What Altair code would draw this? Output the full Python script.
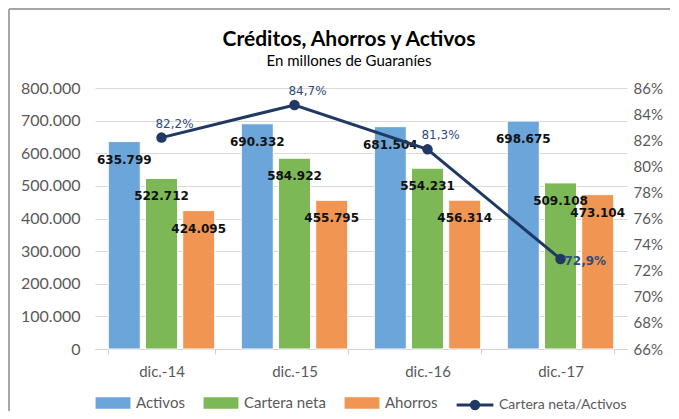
import altair as alt
import pandas as pd

categorias = ["dic.-14", "dic.-15", "dic.-16", "dic.-17"]
series = ["Activos", "Cartera neta", "Ahorros"]
activos = [635799, 690332, 681504, 698675]
cartera = [522712, 584922, 554231, 509108]
ahorros = [424095, 455795, 456314, 473104]
ratio = [0.822, 0.847, 0.813, 0.729]
ticks_izq = [0, 100000, 200000, 300000, 400000, 500000, 600000, 700000, 800000]
ticks_der = [0.66, 0.68, 0.70, 0.72, 0.74, 0.76, 0.78, 0.80, 0.82, 0.84, 0.86]

colores = ["#6CA5DA", "#7CB855", "#F09552"]
navy = "#1F3864"

rows = []
for i, c in enumerate(categorias):
    for s, vals in zip(series, [activos, cartera, ahorros]):
        rows.append({"Fecha": c, "Serie": s, "Valor": vals[i]})
df_bars = pd.DataFrame(rows)
df_line = pd.DataFrame({"Fecha": categorias, "Ratio": ratio,
                        "Serie2": ["Cartera neta/Activos"] * 4,
                        "ultimo": [False, False, False, True]})

FONT = "Lato"
xenc = alt.X("Fecha:N", sort=categorias, title=None,
             scale=alt.Scale(paddingInner=0.2, paddingOuter=0.1),
             axis=alt.Axis(labelFont=FONT, labelFontSize=15, labelColor="#595959",
                           labelPadding=10, domainColor="#D0D0D0", tickColor="#D0D0D0",
                           tickSize=5, tickBand="extent", labelAngle=0))
xoff = alt.XOffset("Serie:N", sort=series, scale=alt.Scale(paddingInner=0.14, paddingOuter=0))
yaxis = alt.Axis(format=",d", values=ticks_izq,
                 labelFont=FONT, labelFontSize=16, labelColor="#595959", labelPadding=15,
                 domain=False, ticks=False, gridColor="#D9D9D9", title=None)
yenc = alt.Y("Valor:Q", scale=alt.Scale(domain=[0, 800000], nice=False), axis=yaxis)

bars = alt.Chart(df_bars).mark_bar(stroke="white", strokeWidth=1).encode(
    x=xenc, xOffset=xoff, y=yenc,
    color=alt.Color("Serie:N", sort=series,
                    scale=alt.Scale(domain=series, range=colores),
                    legend=alt.Legend(title=None, orient="none", direction="horizontal",
                                      legendX=6, legendY=303,
                                      symbolType="M-1.5,-0.5H1.5V0.5H-1.5Z", symbolSize=540,
                                      symbolStrokeWidth=0, labelOffset=11, columnPadding=18,
                                      labelFont=FONT, labelFontSize=15, labelColor="#595959")),
)
bar_text = alt.Chart(df_bars).mark_text(font="DejaVu Sans", fontWeight="bold", fontSize=12,
                                        color="#111111", baseline="middle", dy=18).encode(
    x=xenc, xOffset=xoff, y=yenc, text=alt.Text("Valor:Q", format=",d"))

left = alt.layer(bars, bar_text)

y2axis = alt.Axis(format=".0%", orient="right", values=ticks_der,
                  labelFont=FONT, labelFontSize=15, labelColor="#595959", labelPadding=6,
                  domain=False, ticks=False, grid=False, title=None)
y2 = alt.Y("Ratio:Q", scale=alt.Scale(domain=[0.66, 0.86], nice=False, zero=False), axis=y2axis)
xl = alt.X("Fecha:N", sort=categorias)

line = alt.Chart(df_line).mark_line(strokeWidth=3).encode(
    x=xl, y=y2,
    stroke=alt.Stroke("Serie2:N", scale=alt.Scale(range=[navy]),
                      legend=alt.Legend(title=None, orient="none", legendX=366, legendY=303,
                                        symbolType="M-1.5,0H1.5M0.3,0A0.3,0.3 0 1,1 -0.3,0A0.3,0.3 0 1,1 0.3,0Z",
                                        symbolSize=600, symbolStrokeWidth=3, symbolFillColor=navy,
                                        labelOffset=10,
                                        labelFont=FONT, labelFontSize=14, labelColor="#595959")))
pts = alt.Chart(df_line).mark_circle(size=110, color=navy, opacity=1).encode(x=xl, y=y2)
pct_a = alt.Chart(df_line).transform_filter("!datum.ultimo").mark_text(
    font="DejaVu Sans", fontSize=12, color="#2F4B7C", align="center", dx=13, dy=-14).encode(
    x=xl, y=y2, text=alt.Text("Ratio:Q", format=".1%"))
pct_b = alt.Chart(df_line).transform_filter("datum.ultimo").mark_text(
    font="DejaVu Sans", fontSize=12, fontWeight="bold", color="#2F4B7C", align="left", dx=4, dy=2).encode(
    x=xl, y=y2, text=alt.Text("Ratio:Q", format=".1%"))

right = alt.layer(line, pts, pct_a, pct_b)

frame_v = alt.Chart(df_line).mark_rule(color="#A6A6A6", strokeWidth=2).encode(
    x=alt.value(-86), y=alt.value(-79), y2=alt.value(323))
frame_h = alt.Chart(df_line).mark_rule(color="#A6A6A6", strokeWidth=2).encode(
    x=alt.value(-86), x2=alt.value(575), y=alt.value(-79))

chart = alt.layer(frame_v, frame_h, left, right).resolve_scale(
    y="independent", color="independent", stroke="independent"
).properties(
    width=532, height=261,
    padding={"left": 0, "top": 0, "right": 0, "bottom": 0},
    title=alt.TitleParams(text="Créditos, Ahorros y Activos",
                          subtitle="En millones de Guaraníes",
                          font=FONT, fontSize=21, fontWeight="bold", color="#000000",
                          subtitleFont=FONT, subtitleFontSize=15, subtitleColor="#000000",
                          anchor="middle", dx=-12, offset=-61, subtitlePadding=4),
).configure(
    locale={"number": {"decimal": ",", "thousands": ".", "grouping": [3], "currency": ["", ""]}}
).configure_view(stroke=None)

chart.save("out.html", embed_options={"renderer": "svg", "actions": False})
